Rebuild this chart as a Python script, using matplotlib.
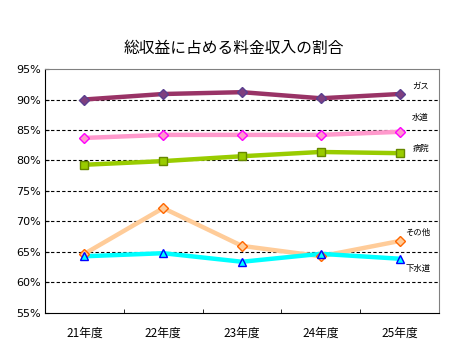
import numpy as np
import matplotlib.pyplot as plt

plt.rcParams['font.family'] = ['Noto Sans CJK JP', 'DejaVu Sans']

years = ['21年度', '22年度', '23年度', '24年度', '25年度']
gas = [90.0, 90.9, 91.2, 90.2, 90.9]
suido = [83.7, 84.2, 84.2, 84.2, 84.7]
byoin = [79.3, 79.9, 80.7, 81.4, 81.2]
sonota = [64.7, 72.2, 66.0, 64.3, 66.8]
gesuido = [64.3, 64.8, 63.4, 64.7, 63.9]

series = [
    ('ガス', gas, '#993366', 'D', '#7f3f7f', '#5a3f8f', 5),
    ('水道', suido, '#ff99cc', 'D', '#ff99cc', '#ff00ff', 5),
    ('病院', byoin, '#99cc00', 's', '#99cc00', '#668800', 6),
    ('その他', sonota, '#ffcc99', 'D', '#ffcc99', '#ff6600', 5),
    ('下水道', gesuido, '#00ffff', '^', '#00ffff', '#0000ff', 6),
]
label_pos = {'ガス': (412, 86), '水道': (412, 117), '病院': (413, 148),
             'その他': (405, 232), '下水道': (406, 268)}

fig = plt.figure(figsize=(4.55, 3.55), dpi=100)
W, H = 455, 355
ax = fig.add_axes([45 / W, 1 - 313 / H, 394 / W, 244 / H])

x = np.arange(len(years))
for name, vals, lc, mk, mfc, mec, ms in series:
    ax.plot(x, vals, color=lc, lw=3.2, solid_capstyle='butt', zorder=3)
    ax.plot(x, vals, ls='none', marker=mk, ms=ms, mfc=mfc, mec=mec,
            mew=1.0, zorder=4)
    px, py = label_pos[name]
    fig.text(px / W, 1 - py / H, name, fontsize=6, ha='left', va='center')

ax.set_xlim(-0.5, 4.5)
ax.set_ylim(55, 95)
ax.set_yticks(np.arange(55, 96, 5))
ax.set_yticklabels([f'{v}%' for v in range(55, 96, 5)], fontsize=8,
                   family=['DejaVu Sans'])
for v in range(60, 95, 5):
    ax.axhline(v, color='black', lw=0.8, ls=(0, (3, 2)), zorder=1)
ax.set_xticks(x)
ax.set_xticklabels(years, fontsize=8.5)
ax.set_xticks(np.arange(0.5, 4.5, 1), minor=True)
ax.tick_params(axis='x', which='major', length=0, pad=10)
ax.tick_params(axis='x', which='minor', length=3, direction='in')
ax.tick_params(axis='y', length=3, direction='in', pad=3)
for s in ['left', 'bottom']:
    ax.spines[s].set_color('black')
for s in ['top', 'right']:
    ax.spines[s].set_color('#808080')

fig.text(234 / W, 1 - 48 / H, '総収益に占める料金収入の割合', fontsize=11.3,
         ha='center', va='center')

fig.savefig('out.png', dpi=100)
